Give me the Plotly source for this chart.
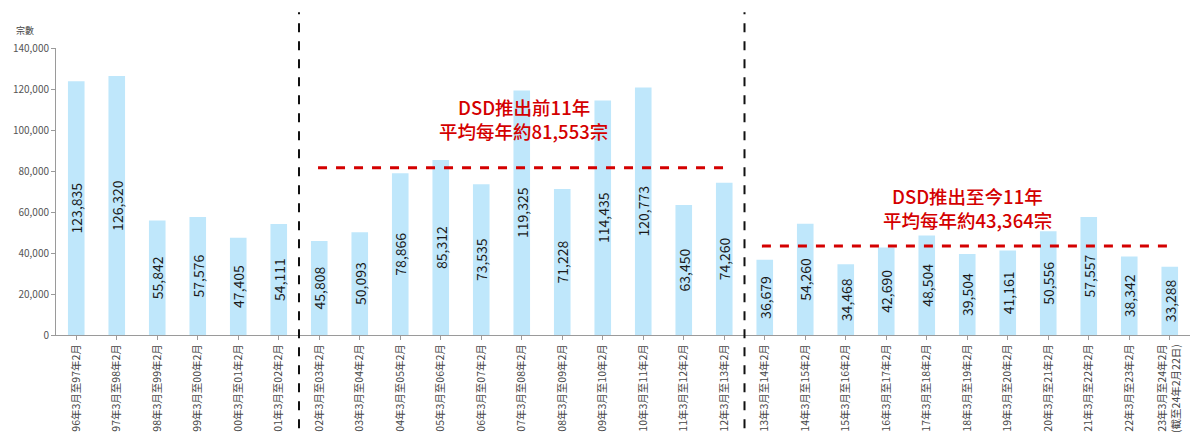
import plotly.graph_objects as go

categories = [
    "96年3月至97年2月", "97年3月至98年2月", "98年3月至99年2月", "99年3月至00年2月",
    "00年3月至01年2月", "01年3月至02年2月", "02年3月至03年2月", "03年3月至04年2月",
    "04年3月至05年2月", "05年3月至06年2月", "06年3月至07年2月", "07年3月至08年2月",
    "08年3月至09年2月", "09年3月至10年2月", "10年3月至11年2月", "11年3月至12年2月",
    "12年3月至13年2月", "13年3月至14年2月", "14年3月至15年2月", "15年3月至16年2月",
    "16年3月至17年2月", "17年3月至18年2月", "18年3月至19年2月", "19年3月至20年2月",
    "20年3月至21年2月", "21年3月至22年2月", "22年3月至23年2月",
    "23年3月至24年2月<br>(截至24年2月22日)",
]
values = [
    123835, 126320, 55842, 57576, 47405, 54111,
    45808, 50093, 78866, 85312, 73535, 119325, 71228, 114435, 120773, 63450, 74260,
    36679, 54260, 34468, 42690, 48504, 39504, 41161, 50556, 57557, 38342, 33288,
]
avg_before = 81553
avg_after = 43364
note_before = ["DSD推出前11年", "平均每年約81,553宗"]
note_after = ["DSD推出至今11年", "平均每年約43,364宗"]
y_title = "宗數"

FONT = "Noto Sans CJK TC"
x_idx = list(range(len(categories)))

fig = go.Figure()
fig.add_trace(go.Bar(
    x=x_idx, y=values,
    marker=dict(color="#BFE7FB", line=dict(width=0)),
    width=0.41,
    text=[f"{v:,}" for v in values],
    textposition="inside",
    insidetextanchor="middle",
    textangle=-90,
    textfont=dict(family=FONT, size=14, color="#1a1a1a"),
    constraintext="none",
    hoverinfo="skip",
))

red = "#D40000"
fig.add_shape(type="line", xref="x", yref="y", x0=5.97, x1=16.0, y0=avg_before, y1=avg_before,
              line=dict(color=red, width=3, dash="dash"))
fig.add_shape(type="line", xref="x", yref="y", x0=16.93, x1=27.06, y0=avg_after, y1=avg_after,
              line=dict(color=red, width=3, dash="dash"))
for xb in (5.5, 16.5):
    fig.add_shape(type="line", xref="x", yref="paper", x0=xb, x1=xb, y0=-0.325, y1=1.125,
                  line=dict(color="#111111", width=2, dash="dash"))

red_font = dict(family=FONT, size=18.5, color=red, weight=500)
for txt, yv in zip(note_before, (111200, 99500)):
    fig.add_annotation(x=11.05, y=yv, xref="x", yref="y", text=txt, showarrow=False,
                       font=red_font, align="center")
for txt, yv in zip(note_after, (67800, 56100)):
    fig.add_annotation(x=22.0, y=yv, xref="x", yref="y", text=txt, showarrow=False,
                       font=red_font, align="center")
fig.add_annotation(x=-0.027, y=1.06, xref="paper", yref="paper", text=y_title, showarrow=False,
                   xanchor="center", yanchor="middle",
                   font=dict(family=FONT, size=9, color="#444444"))

fig.update_layout(
    width=1200, height=448,
    margin=dict(l=56, r=10, t=48, b=113),
    plot_bgcolor="white", paper_bgcolor="white",
    showlegend=False,
    bargap=0.59,
    font=dict(family=FONT),
    xaxis=dict(
        tickmode="array", tickvals=x_idx, ticktext=categories,
        tickangle=-90, tickfont=dict(family=FONT, size=10.5, color="#444444"),
        range=[-0.5, len(categories) - 0.5],
        showline=True, linecolor="#9a9a9a", linewidth=1,
        ticks="outside", ticklen=4, tickcolor="#9a9a9a", tickson="boundaries",
        showgrid=False, zeroline=False,
    ),
    yaxis=dict(
        range=[0, 140000], tickvals=list(range(0, 140001, 20000)),
        tickformat=",d", tickfont=dict(family=FONT, size=10, color="#555555"),
        showline=True, linecolor="#9a9a9a", linewidth=1,
        ticks="outside", ticklen=4, tickcolor="#9a9a9a",
        showgrid=False, zeroline=False,
    ),
)

fig.write_html("out.html")
